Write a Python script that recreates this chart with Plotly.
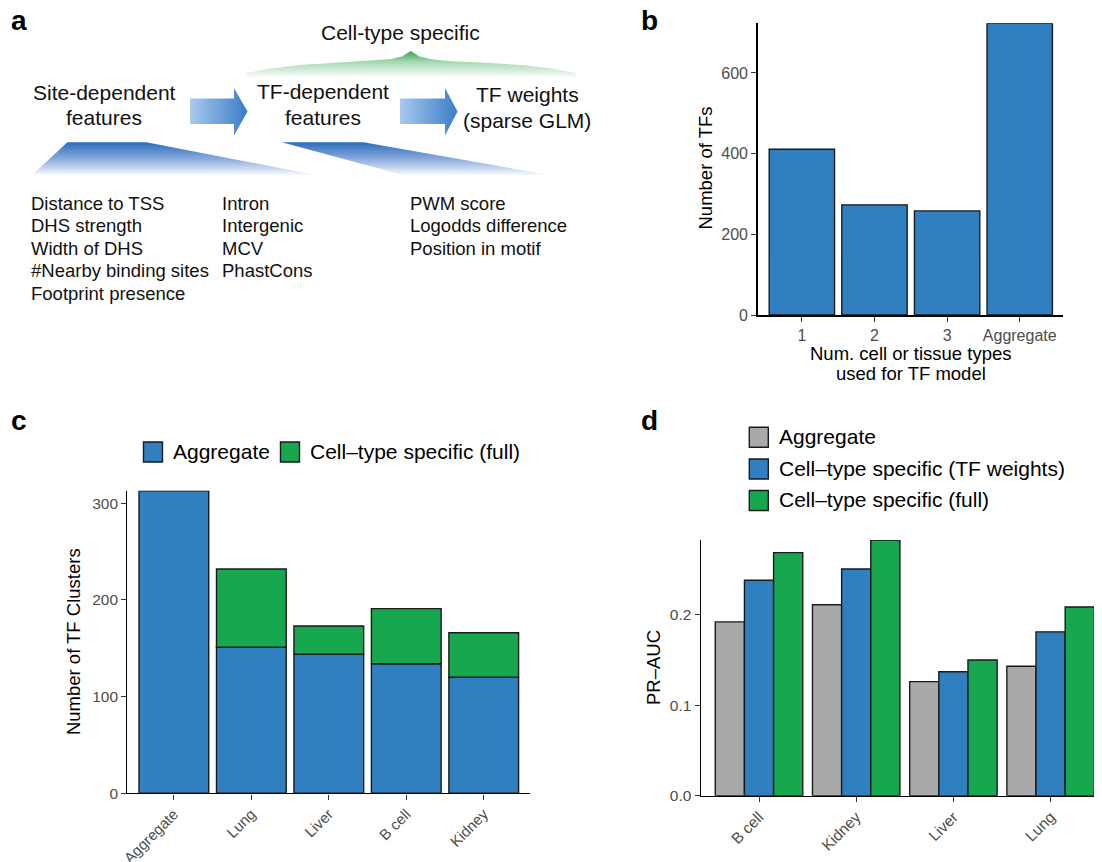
import plotly.graph_objects as go

# page offset caused by the default body margin of the html page
OX, OY = 8, 8
W, H = 1102 - OX, 862 - OY
FONT = "Liberation Sans, Arial, Helvetica, sans-serif"

BLUE = "#2F7FC1"
GREEN = "#17A84F"
GREY = "#A9A9A9"
EDGE = "#1A1A1A"
TICKCOL = "#4D4D4D"

# ---------------- data ----------------
# panel a (diagram texts)
a_cell_type = "Cell-type specific"
a_stage1 = ["Site-dependent", "features"]
a_stage2 = ["TF-dependent", "features"]
a_stage3 = ["TF weights", "(sparse GLM)"]
a_site_features = ["Distance to TSS", "DHS strength", "Width of DHS",
                   "#Nearby binding sites", "Footprint presence"]
a_region_features = ["Intron", "Intergenic", "MCV", "PhastCons"]
a_tf_features = ["PWM score", "Logodds difference", "Position in motif"]

# panel b
b_categories = ["1", "2", "3", "Aggregate"]
b_values = [411, 273, 258, 723]
b_yticks = [0, 200, 400, 600]
b_xtitle = ["Num. cell or tissue types", "used for TF model"]
b_ytitle = "Number of TFs"

# panel c
c_categories = ["Aggregate", "Lung", "Liver", "B cell", "Kidney"]
c_aggregate = [313, 151, 144, 134, 120]
c_celltype_full = [None, 81, 29, 57, 46]
c_series = ["Aggregate", "Cell\u2013type specific (full)"]
c_yticks = [0, 100, 200, 300]
c_ytitle = "Number of TF Clusters"

# panel d
d_categories = ["B cell", "Kidney", "Liver", "Lung"]
d_aggregate = [0.192, 0.211, 0.126, 0.143]
d_tf_weights = [0.238, 0.2505, 0.137, 0.181]
d_full = [0.2685, 0.2825, 0.150, 0.2085]
d_series = ["Aggregate", "Cell\u2013type specific (TF weights)", "Cell\u2013type specific (full)"]
d_yticks = [0.0, 0.1, 0.2]
d_ytitle = "PR\u2013AUC"


def dx(a, b):
    return [max(0, (a - OX) / W), min(1, (b - OX) / W)]


def dy(top, bottom):
    return [max(0, 1 - (bottom - OY) / H), min(1, 1 - (top - OY) / H)]


fig = go.Figure()

# ---------------- panel b ----------------
fig.add_trace(go.Bar(x=b_categories, y=b_values, width=0.9,
                     marker=dict(color=BLUE, line=dict(color=EDGE, width=1.4)),
                     xaxis="x", yaxis="y", showlegend=False))

# ---------------- panel c ----------------
fig.add_trace(go.Bar(x=c_categories, y=c_aggregate, width=0.9, name=c_series[0],
                     marker=dict(color=BLUE, line=dict(color=EDGE, width=1.4)),
                     xaxis="x2", yaxis="y2", showlegend=False))
fig.add_trace(go.Bar(x=c_categories, y=c_celltype_full, base=c_aggregate, width=0.9,
                     name=c_series[1],
                     marker=dict(color=GREEN, line=dict(color=EDGE, width=1.4)),
                     xaxis="x2", yaxis="y2", showlegend=False))

# ---------------- panel d ----------------
d_colors = [GREY, BLUE, GREEN]
for vals, name, col, off in zip([d_aggregate, d_tf_weights, d_full], d_series,
                                d_colors, [-0.45, -0.15, 0.15]):
    fig.add_trace(go.Bar(x=d_categories, y=vals, width=0.3, offset=off, name=name,
                         marker=dict(color=col, line=dict(color=EDGE, width=1.4)),
                         xaxis="x3", yaxis="y3", showlegend=False))

# ---------------- panel a decorations (overlay pixel axes) ----------------
def poly(xs, ys, grad):
    fig.add_trace(go.Scatter(x=xs + [xs[0]], y=ys + [ys[0]], mode="lines",
                             line=dict(width=0, color="rgba(0,0,0,0)"),
                             fill="toself", fillgradient=grad, hoverinfo="skip",
                             xaxis="x5", yaxis="y5", showlegend=False))

# arrows
for x0, x1, x2 in [(190, 234, 247.5), (400, 445, 457.5)]:
    poly([x0, x1, x1, x2, x1, x1, x0],
         [98.5, 98.5, 88, 111.5, 135.5, 124, 124],
         dict(type="horizontal", colorscale=[[0, "#A8CAEC"], [1, "#3A7CC8"]],
              start=x0, stop=x2))

# wedges
for pts in [[(67.4, 142.3), (146.4, 142.3), (318.7, 175.5), (31.5, 175.5)],
            [(281.7, 142.3), (363.6, 142.3), (552, 175.5), (404.8, 175.5)]]:
    poly([p[0] for p in pts], [p[1] for p in pts],
         dict(type="vertical",
              colorscale=[[0, "#2C6DBD"], [0.5, "#8AABDC"], [1, "#FFFFFF"]],
              start=142.3, stop=176))

# brace
brace_top = [(246, 73), (270, 68.5), (300, 65), (340, 62.5), (370, 61.3),
             (390, 59.3), (402, 56.5), (410.7, 51), (419.4, 56.5), (431.4, 59.3),
             (451.4, 61.3), (481.4, 62.5), (521.4, 65), (551.4, 68.5), (576, 73)]
bx = [p[0] for p in brace_top] + [576, 246]
by = [p[1] for p in brace_top] + [79, 79]
poly(bx, by, dict(type="vertical",
                  colorscale=[[0, "#2FA64F"], [0.4, "#A6D8B0"], [1, "#FFFFFF"]],
                  start=51, stop=78))

annotations = []
shapes = []


def txt(x, y, s, size, color="#111111", xanchor="center", yanchor="middle",
        angle=0, bold=False):
    annotations.append(dict(x=x, y=y, xref="x5", yref="y5", text=s, showarrow=False,
                            xanchor=xanchor, yanchor=yanchor, textangle=angle,
                            font=dict(family=FONT, size=size, color=color,
                                      weight="bold" if bold else "normal")))


# panel letters
txt(9, 20, "a", 28, "#000", "left", bold=True)
txt(639, 20, "b", 28, "#000", "left", bold=True)
txt(9, 420, "c", 28, "#000", "left", bold=True)
txt(639, 420, "d", 28, "#000", "left", bold=True)

# panel a texts
txt(400, 32, a_cell_type, 21)
txt(104, 92, a_stage1[0], 21)
txt(104, 117, a_stage1[1], 21)
txt(323, 91, a_stage2[0], 21)
txt(323, 117, a_stage2[1], 21)
txt(527, 94.5, a_stage3[0], 21)
txt(527, 120.5, a_stage3[1], 21)
row_y = [203, 225.5, 248, 270.5, 293]
for i, s in enumerate(a_site_features):
    txt(28.5, row_y[i], s, 18.5, xanchor="left")
for i, s in enumerate(a_region_features):
    txt(219.5, row_y[i], s, 18.5, xanchor="left")
for i, s in enumerate(a_tf_features):
    txt(407.5, row_y[i], s, 18.5, xanchor="left")

# axis titles
txt(705, 168.5, b_ytitle, 18.5, "#000", angle=-90)
txt(910.8, 353, b_xtitle[0], 18.5, "#000")
txt(910.8, 373, b_xtitle[1], 18.5, "#000")
txt(73.6, 641.5, c_ytitle, 18.5, "#000", angle=-90)
txt(653.3, 667.7, d_ytitle, 18.5, "#000", angle=-90)

# legends (manual)
def legbox(x0, yc, color):
    shapes.append(dict(type="rect", xref="x5", yref="y5", x0=x0, x1=x0 + 19,
                       y0=yc - 10, y1=yc + 10, fillcolor=color,
                       line=dict(color=EDGE, width=1.4)))


legbox(143.5, 452, BLUE)
txt(171.3, 451, c_series[0], 21, "#000", "left")
legbox(280.5, 452, GREEN)
txt(307.7, 451, c_series[1], 21, "#000", "left")

for name, col, yc in zip(d_series, d_colors, [437.2, 469, 500.5]):
    legbox(749.3, yc, col)
    txt(777.3, yc - 1, name, 21, "#000", "left")

# ---------------- axes ----------------
def xax(domain, rng, lw, size, angle=0):
    return dict(domain=domain, range=rng, type="category", showline=True,
                linecolor="#000", linewidth=lw, ticks="outside", ticklen=5,
                tickwidth=1.3, tickcolor="#333", showgrid=False, zeroline=False,
                tickangle=angle, fixedrange=True, automargin=False,
                tickfont=dict(family=FONT, size=size, color=TICKCOL))


def yax(domain, rng, lw, size, tickvals, fmt=None):
    d = dict(domain=domain, range=rng, showline=True, linecolor="#000",
             linewidth=lw, ticks="outside", ticklen=5, tickwidth=1.3,
             tickcolor="#333", showgrid=False, zeroline=False, tickvals=tickvals,
             fixedrange=True, automargin=False,
             tickfont=dict(family=FONT, size=size, color=TICKCOL))
    if fmt:
        d["tickformat"] = fmt
    return d


layout = dict(
    template="none",
    width=W, height=H, margin=dict(l=0, r=0, t=0, b=0, pad=0, autoexpand=False),
    paper_bgcolor="white", plot_bgcolor="rgba(0,0,0,0)",
    barmode="overlay", showlegend=False,
    font=dict(family=FONT),
    xaxis=dict(xax(dx(758.3, 1063.3), [-0.6, 3.6], 2.2, 16), anchor="y"),
    yaxis=dict(yax(dy(23.3, 315), [0, 723], 2.2, 16, b_yticks), anchor="x"),
    xaxis2=dict(xax(dx(127.4, 530.2), [-0.6, 4.6], 1.4, 15, -45), anchor="y2"),
    yaxis2=dict(yax(dy(490.7, 793.3), [0, 313], 1.4, 15.5, c_yticks), anchor="x2"),
    xaxis3=dict(xax(dx(700.7, 1102), [-0.6, 3.529], 1.4, 15.5, -45), anchor="y3"),
    yaxis3=dict(yax(dy(540, 795.7), [0, 0.2825], 1.4, 15.5, d_yticks, ".1f"), anchor="x3"),
    xaxis5=dict(domain=[0, 1], range=[OX, OX + W], visible=False, anchor="y5",
                fixedrange=True, automargin=False),
    yaxis5=dict(domain=[0, 1], range=[OY + H, OY], visible=False, anchor="x5",
                fixedrange=True, automargin=False),
    annotations=annotations, shapes=shapes,
)
fig.update_layout(**layout)
fig.write_html("out.html")
